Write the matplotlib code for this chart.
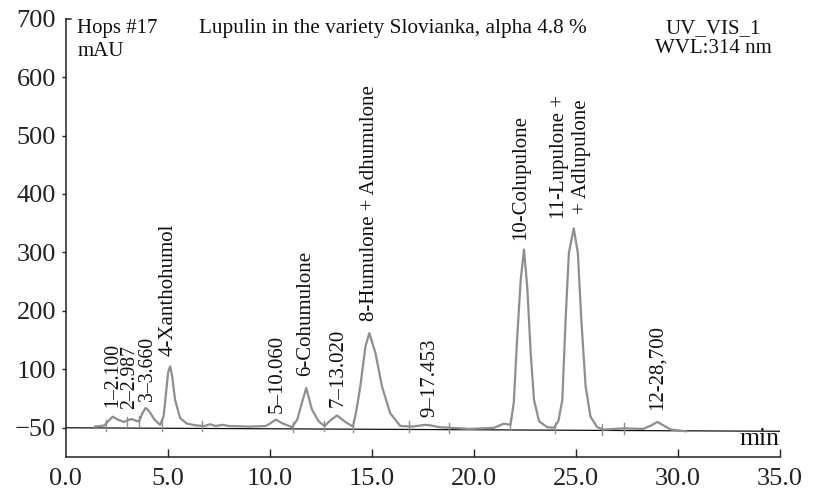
import matplotlib
matplotlib.use("Agg")
import matplotlib.pyplot as plt
from matplotlib.lines import Line2D

plt.rcParams['font.family'] = ['Liberation Serif', 'DejaVu Serif']

# chromatogram trace (retention time, min ; signal, mAU)
trace_t = [1.44, 1.9, 2.05, 2.3, 2.55, 2.85, 3.05, 3.24, 3.45, 3.6, 3.75, 3.92, 4.1, 4.35,
           4.63, 4.8, 4.92, 5.02, 5.12, 5.22, 5.36, 5.6, 5.94, 6.4, 6.8, 7.08, 7.35, 7.7,
           8.0, 9.0, 9.8, 10.05, 10.3, 10.6, 11.09, 11.35, 11.58, 11.79, 12.07, 12.4,
           12.69, 12.95, 13.3, 13.7, 14.08, 14.25, 14.44, 14.69, 14.88, 15.18, 15.5, 15.9,
           16.4, 17.0, 17.6, 17.9, 18.3, 18.86, 19.8, 21.0, 21.47, 21.8, 21.96, 22.13,
           22.3, 22.46, 22.62, 22.79, 22.95, 23.2, 23.6, 23.93, 24.15, 24.34, 24.5, 24.66,
           24.9, 25.1, 25.27, 25.48, 25.72, 26.05, 26.37, 27.36, 28.3, 28.7, 29.0, 29.3,
           29.65, 30.4]
trace_v = [2, 4, 10, 19, 14, 10, 13, 15, 12, 11, 24, 34, 28, 14,
           5, 20, 60, 95, 105, 88, 48, 17, 7, 4, 3, 6, 3, 5,
           3, 2, 3, 8, 14, 8, 1, 14, 43, 68, 31, 11,
           3, 12, 21, 10, 2, 30, 71, 139, 162, 128, 71, 25,
           3, 2, 5, 4, 1, 0, -2, 0, 7, 5, 43, 156,
           253, 305, 241, 128, 48, 11, 1, 0, 12, 48, 185, 299,
           341, 299, 185, 71, 19, 1, -3, -1, -2, 4, 10, 4,
           -3, -6]

# integration marks (peak delimiters)
marks_t = [1.98, 2.99, 3.61, 4.71, 6.67, 11.14, 12.67, 14.08, 16.81, 18.8, 21.77, 23.96, 26.3, 27.36]
marks_v = [4, 10, 11, 4, 3, 1, 3, 2, 2, 0, 6, 0, -3, -1]

# baseline drawn across the chart
baseline_t = [0.0, 35.0]
baseline_v = [0.0, -6.0]

# peak labels
label_text = ["1\u20132.100", "2\u20132.987", "3\u20133.660", "4-Xanthohumol", "5\u201310.060",
              "6-Cohumulone", "7\u201313.020", "8-Humulone + Adhumulone", "9\u201317.453",
              "10-Colupulone", "11-Lupulone +\n+ Adlupulone", "12-28,700"]
label_t = [2.3, 3.15, 4.03, 5.04, 10.37, 11.74, 13.33, 14.9, 17.83, 22.3, 24.74, 29.0]
label_v = [36, 32, 45, 122, 26, 88, 36, 182, 19, 321, 357, 31]
label_size = [14.2, 14.2, 14.2, 15, 15, 15, 15, 15, 15, 15, 15, 15]

x_ticks = [0, 5, 10, 15, 20, 25, 30, 35]
x_ticklabels = ["0.0", "5.0", "10.0", "15.0", "20.0", "25.0", "30.0", "35.0"]
y_ticks = [0, 100, 200, 300, 400, 500, 600, 700]
y_ticklabels = ["\u221250", "100", "200", "300", "400", "500", "600", "700"]

fig = plt.figure(figsize=(8.19, 4.97), dpi=100)
ax = fig.add_axes([0.0802, 0.0805, 0.872, 0.882])
ax.set_xlim(0, 35)
ax.set_ylim(-50, 700)

trace_col = '#8e8e8e'
ax.plot(baseline_t, baseline_v, color='#111111', lw=0.9, zorder=2)
ax.plot(trace_t, trace_v, color=trace_col, lw=1.6, zorder=3, solid_joinstyle='round')
for mt, mv in zip(marks_t, marks_v):
    ax.plot([mt, mt], [mv - 9, mv + 9], color=trace_col, lw=1.0, zorder=3)

for txt, t, v, fs in zip(label_text, label_t, label_v, label_size):
    ax.text(t, v, txt, rotation=90, ha='center', va='bottom', fontsize=fs,
            color='#111111', multialignment='center', linespacing=1.2)

ax.set_xticks(x_ticks)
ax.set_xticklabels(x_ticklabels)
ax.set_yticks(y_ticks)
ax.set_yticklabels(y_ticklabels)
ax.tick_params(axis='x', direction='in', length=6, width=1, pad=8, labelsize=19, colors='#222222')
ax.tick_params(axis='y', direction='out', length=3, width=1, pad=4, labelsize=19, colors='#222222')
ax.yaxis.get_major_ticks()[-1].tick1line.set_visible(False)
ax.xaxis.get_major_ticks()[0].tick1line.set_visible(False)

for s in ['top', 'right']:
    ax.spines[s].set_visible(False)
for s in ['left', 'bottom']:
    ax.spines[s].set_linewidth(1.1)
    ax.spines[s].set_color('#222222')
# short cap at the top of the y axis
ax.add_line(Line2D([0, 0.008], [1, 1], transform=ax.transAxes, color='#222222', lw=1.1, clip_on=False))

ax.text(0.0165, 1.0, "Hops #17\nmAU", transform=ax.transAxes, ha='left', va='top',
        fontsize=15, linespacing=1.3, color='#111111')
ax.text(0.187, 1.0, "Lupulin in the variety Slovianka, alpha 4.8 %", transform=ax.transAxes,
        ha='left', va='top', fontsize=15.3, color='#111111')
ax.text(0.9066, 1.0, "UV_VIS_1\nWVL:314 nm", transform=ax.transAxes, ha='center', va='top',
        fontsize=15, linespacing=1.08, color='#111111')
ax.text(35, -29, "min", ha='right', va='baseline', fontsize=18.5, color='#111111')

fig.savefig("out.png", dpi=100)
